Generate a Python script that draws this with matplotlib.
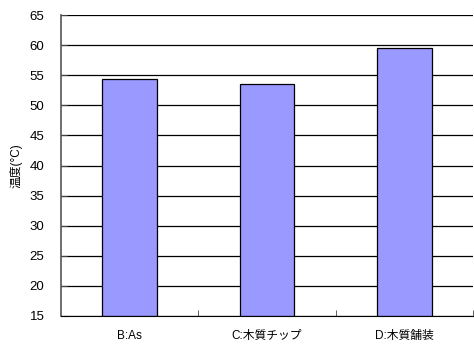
import matplotlib
matplotlib.use('Agg')
import matplotlib.pyplot as plt
import numpy as np

plt.rcParams['font.family'] = ['Liberation Sans', 'Noto Sans CJK JP']

# surface temperature by pavement type
labels = ['B:As', 'C:木質チップ', 'D:木質舗装']
temps = [54.3, 53.6, 59.5]
yticks = [15, 20, 25, 30, 35, 40, 45, 50, 55, 60, 65]

fig = plt.figure(figsize=(4.74, 3.48), dpi=100)
ax = fig.add_axes([61 / 474, 1 - 316 / 348, 412 / 474, 301 / 348])

x = np.arange(len(labels))
ax.set_axisbelow(True)
ax.yaxis.grid(True, color='black', linewidth=0.9)
ax.bar(x, [t - 15 for t in temps], bottom=15, width=0.4,
       color='#9999FF', edgecolor='black', linewidth=0.9, zorder=2)

ax.set_xlim(-0.5, len(labels) - 0.5)
ax.set_ylim(15, 65)
ax.set_yticks(yticks)
ax.set_yticklabels([str(v) for v in yticks], fontsize=9.5)
ax.set_xticks(x)
ax.set_xticklabels(labels, fontsize=8.5)
ax.tick_params(axis='x', length=0, pad=10)
ax.tick_params(axis='y', length=4, direction='in', pad=12, color='#444444')
# category separators on the x axis
ax.set_xticks(np.arange(0.5, len(labels)), minor=True)
ax.tick_params(axis='x', which='minor', length=4, direction='in', color='#444444')

for side in ['top', 'right']:
    ax.spines[side].set_visible(False)
ax.spines['left'].set_color('#555555')
ax.spines['left'].set_linewidth(1.2)
ax.spines['bottom'].set_color('black')

ax.set_ylabel('温度(°C)', fontsize=8.5, labelpad=5)

fig.savefig('out.png', dpi=100)
